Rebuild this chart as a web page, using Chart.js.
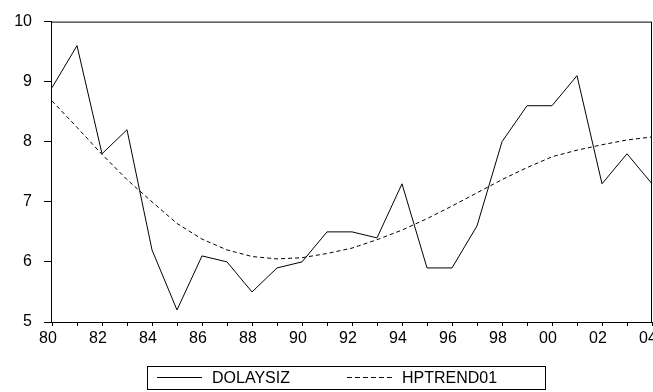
<!DOCTYPE html>
<html>
<head>
<meta charset="utf-8">
<script src="https://cdn.jsdelivr.net/npm/chart.js@4/dist/chart.umd.min.js"></script>
<style>
  html, body { margin: 0; padding: 0; background: #fff; }
  #c { display: block; }
</style>
</head>
<body>
<canvas id="c" width="653" height="392"></canvas>
<script>
// Years 1980-2004, two-digit labels
const years = ['80','81','82','83','84','85','86','87','88','89',
               '90','91','92','93','94','95','96','97','98','99',
               '00','01','02','03','04'];

// Observed series
const dolaysiz = [8.9, 9.6, 7.8, 8.2, 6.2, 5.2, 6.1, 6.0, 5.5, 5.9,
                  6.0, 6.5, 6.5, 6.4, 7.3, 5.9, 5.9, 6.6, 8.0, 8.6,
                  8.6, 9.1, 7.3, 7.8, 7.3];

// Hodrick-Prescott trend of the series
const hptrend01 = [8.68, 8.24, 7.79, 7.37, 7.00, 6.64, 6.38, 6.20, 6.09, 6.05,
                   6.07, 6.14, 6.23, 6.37, 6.53, 6.72, 6.93, 7.15, 7.37, 7.57,
                   7.75, 7.86, 7.95, 8.03, 8.08];

const yMin = 5;
const yMax = 10;
const yStep = 1;

const FONT = "'Liberation Sans', Arial, sans-serif";
const INK = '#000';

// Box around the plot area
const framePlugin = {
  id: 'frame',
  afterDatasetsDraw(chart) {
    const { ctx, chartArea: a } = chart;
    ctx.save();
    ctx.strokeStyle = INK;
    ctx.lineWidth = 1;
    ctx.strokeRect(a.left - 0.5, a.top + 0.5, a.right - a.left, a.bottom - a.top);
    ctx.restore();
  }
};

// Boxed legend below the axis, one sample line per dataset
const boxLegendPlugin = {
  id: 'boxLegend',
  afterDraw(chart) {
    const { ctx } = chart;
    const box = { x: 147.5, y: 366.5, w: 398, h: 23 };
    const midY = 377.5;
    const entries = [{ x: 157 }, { x: 347 }];
    ctx.save();
    ctx.strokeStyle = INK;
    ctx.lineWidth = 1;
    ctx.strokeRect(box.x, box.y, box.w, box.h);
    ctx.font = '16px ' + FONT;
    ctx.fillStyle = INK;
    ctx.textBaseline = 'middle';
    chart.data.datasets.forEach((ds, i) => {
      const e = entries[i];
      ctx.beginPath();
      ctx.setLineDash(ds.borderDash && ds.borderDash.length ? [5, 3] : []);
      ctx.moveTo(e.x, midY);
      ctx.lineTo(e.x + 45, midY);
      ctx.stroke();
      ctx.setLineDash([]);
      ctx.fillText(ds.label, e.x + 55, midY + 1);
    });
    ctx.restore();
  }
};

new Chart(document.getElementById('c'), {
  type: 'line',
  data: {
    labels: years,
    datasets: [
      {
        label: 'DOLAYSIZ',
        data: dolaysiz,
        borderColor: INK,
        borderWidth: 1,
        pointRadius: 0,
        tension: 0,
        fill: false
      },
      {
        label: 'HPTREND01',
        data: hptrend01,
        borderColor: INK,
        borderWidth: 1,
        borderDash: [4, 3],
        pointRadius: 0,
        tension: 0,
        fill: false
      }
    ]
  },
  options: {
    responsive: false,
    animation: false,
    devicePixelRatio: 1,
    layout: { padding: { top: 16, right: 1, left: 0, bottom: 0 } },
    plugins: {
      legend: { display: false },
      tooltip: { enabled: false }
    },
    scales: {
      x: {
        type: 'category',
        offset: false,
        border: { display: false },
        grid: {
          drawOnChartArea: false,
          drawTicks: true,
          tickLength: 4,
          color: INK
        },
        ticks: {
          autoSkip: false,
          maxRotation: 0,
          minRotation: 0,
          padding: 3,
          labelOffset: -4,
          color: INK,
          font: { family: FONT, size: 16 },
          callback: (v, i) => (i % 2 === 0 ? years[i] : '')
        },
        afterFit(s) {
          s.height = 70;
          s.paddingLeft = 0;
          s.paddingRight = 0;
        }
      },
      y: {
        min: yMin,
        max: yMax,
        border: { display: false },
        grid: {
          drawOnChartArea: false,
          drawTicks: true,
          tickLength: 8,
          color: INK
        },
        ticks: {
          stepSize: yStep,
          padding: 12,
          color: INK,
          font: { family: FONT, size: 16 }
        },
        afterFit(s) {
          s.width = 52;
        }
      }
    }
  },
  plugins: [framePlugin, boxLegendPlugin]
});
</script>
</body>
</html>
